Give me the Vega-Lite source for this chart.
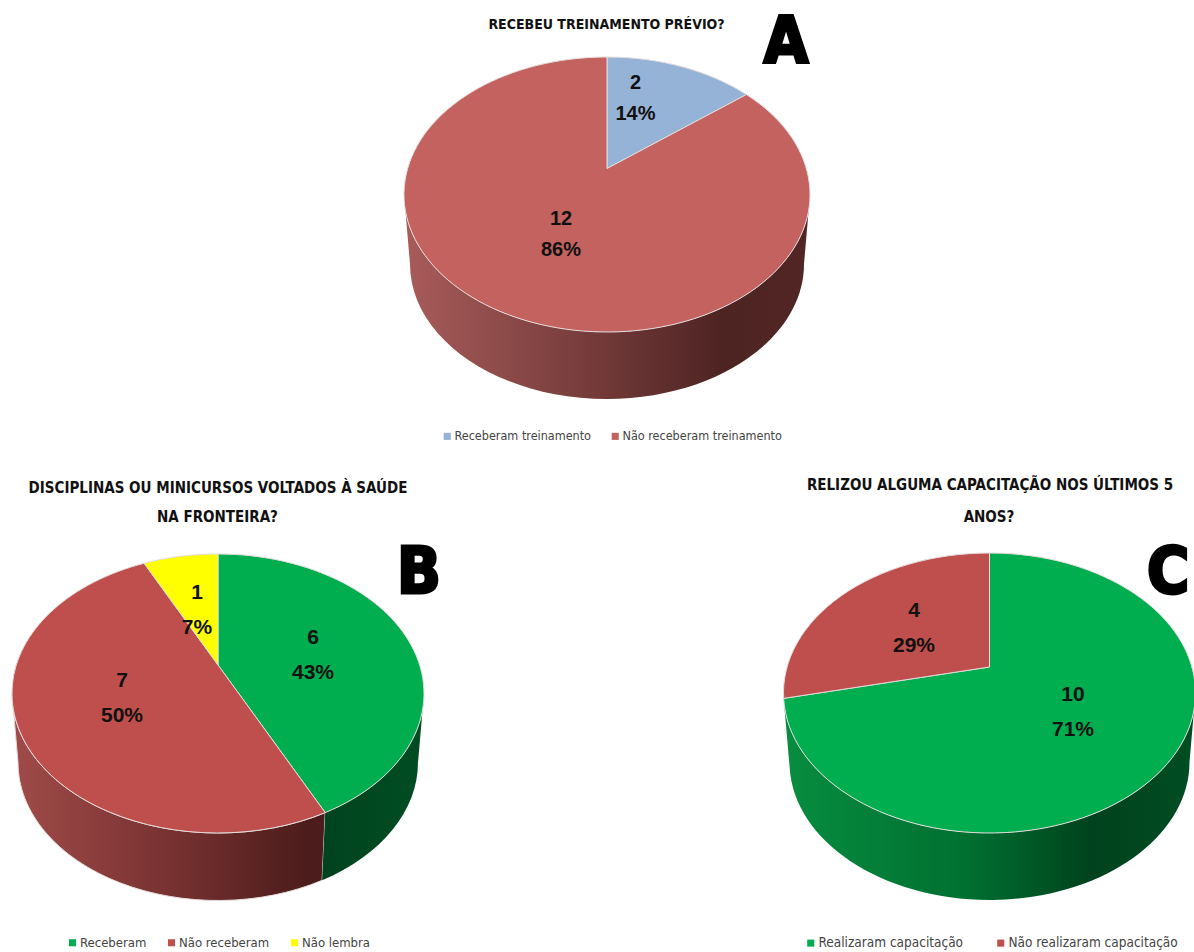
{
  "$schema": "https://vega.github.io/schema/vega-lite/v6.json",
  "width": 1194,
  "height": 952,
  "padding": 0,
  "autosize": {"type": "none"},
  "background": "white",
  "view": {"stroke": null},
  "params": [
    {"name": "pie", "value": {
      "A": {"cx": 607, "cy": 194.5, "rx": 203, "ry": 137.5, "ay": 168.5, "depth": 69.5, "bx": 197, "by": 135},
      "B": {"cx": 218, "cy": 693.5, "rx": 206, "ry": 139.5, "ay": 665, "depth": 69, "bx": 200, "by": 138},
      "C": {"cx": 989.5, "cy": 693, "rx": 206, "ry": 140, "ay": 667, "depth": 69, "bx": 200, "by": 138}
    }},
    {"name": "labelAt", "value": {
      "Receberam treinamento": [635.5, 83],
      "Não receberam treinamento": [561, 219],
      "Receberam": [313, 638],
      "Não receberam": [122, 681],
      "Não lembra": [197, 593],
      "Realizaram capacitação": [1073, 695],
      "Não realizaram capacitação": [914, 611]
    }},
    {"name": "noteAt", "value": {
      "RECEBEU TREINAMENTO PRÉVIO?": [606.5, 25],
      "DISCIPLINAS OU MINICURSOS VOLTADOS À SAÚDE": [218, 488],
      "NA FRONTEIRA?": [217.5, 517],
      "RELIZOU ALGUMA CAPACITAÇÃO NOS ÚLTIMOS 5": [990, 485],
      "ANOS?": [989, 517],
      "A": [786, 44],
      "B": [419, 574],
      "C": [1168, 574]
    }}
  ],
  "datasets": {
    "slices": [
      {"panel": "A", "category": "Receberam treinamento", "n": 2, "ord": 1},
      {"panel": "A", "category": "Não receberam treinamento", "n": 12, "ord": 2},
      {"panel": "B", "category": "Receberam", "n": 6, "ord": 1},
      {"panel": "B", "category": "Não receberam", "n": 7, "ord": 2},
      {"panel": "B", "category": "Não lembra", "n": 1, "ord": 3},
      {"panel": "C", "category": "Realizaram capacitação", "n": 10, "ord": 1},
      {"panel": "C", "category": "Não realizaram capacitação", "n": 4, "ord": 2}
    ],
    "notes": [
      {"kind": "title", "text": "RECEBEU TREINAMENTO PRÉVIO?"},
      {"kind": "title", "text": "DISCIPLINAS OU MINICURSOS VOLTADOS À SAÚDE"},
      {"kind": "title", "text": "NA FRONTEIRA?"},
      {"kind": "title", "text": "RELIZOU ALGUMA CAPACITAÇÃO NOS ÚLTIMOS 5"},
      {"kind": "title", "text": "ANOS?"},
      {"kind": "letter", "text": "A"},
      {"kind": "letter", "text": "B"},
      {"kind": "letter", "text": "C"}
    ]
  },
  "data": {"name": "slices"},
  "transform": [
    {"joinaggregate": [{"op": "sum", "field": "n", "as": "total"}], "groupby": ["panel"]},
    {"stack": "n", "groupby": ["panel"], "sort": [{"field": "ord", "order": "ascending"}], "as": ["s0", "s1"]},
    {"calculate": "pie[datum.panel]", "as": "g"},
    {"calculate": "datum.g.cx", "as": "px"},
    {"calculate": "datum.g.cy", "as": "py"},
    {"calculate": "(datum.g.cy - datum.g.ay) / datum.g.ry", "as": "k"},
    {"calculate": "2 * PI * datum.s0 / datum.total", "as": "t0"},
    {"calculate": "2 * PI * datum.s1 / datum.total", "as": "t1"},
    {"calculate": "sin(datum.t0) * sqrt(1 - datum.k * datum.k) / (1 + datum.k * cos(datum.t0))", "as": "x0"},
    {"calculate": "(cos(datum.t0) + datum.k) / (1 + datum.k * cos(datum.t0))", "as": "y0"},
    {"calculate": "sin(datum.t1) * sqrt(1 - datum.k * datum.k) / (1 + datum.k * cos(datum.t1))", "as": "x1"},
    {"calculate": "(cos(datum.t1) + datum.k) / (1 + datum.k * cos(datum.t1))", "as": "y1"},
    {"calculate": "datum.s0 <= 0 ? 0 : (atan2(datum.x0, datum.y0) + 2 * PI) % (2 * PI)", "as": "phi0"},
    {"calculate": "datum.s1 >= datum.total ? 2 * PI : (atan2(datum.x1, datum.y1) + 2 * PI) % (2 * PI)", "as": "phi1"},
    {"calculate": "'M0,' + round(-datum.k * datum.g.ry * 100) / 100 + 'L' + round(datum.g.rx * datum.x0 * 100) / 100 + ',' + round(-datum.g.ry * datum.y0 * 100) / 100 + 'A' + datum.g.rx + ',' + datum.g.ry + ' 0 ' + (datum.phi1 - datum.phi0 > PI ? 1 : 0) + ' 1 ' + round(datum.g.rx * datum.x1 * 100) / 100 + ',' + round(-datum.g.ry * datum.y1 * 100) / 100 + 'Z'", "as": "topPath"},
    {"calculate": "max(datum.phi0, PI / 2)", "as": "a0"},
    {"calculate": "min(datum.phi1, 3 * PI / 2)", "as": "a1"},
    {"calculate": "'M' + round(datum.g.rx * sin(datum.a0) * 100) / 100 + ',' + round(-datum.g.ry * cos(datum.a0) * 100) / 100 + 'A' + datum.g.rx + ',' + datum.g.ry + ' 0 0 1 ' + round(datum.g.rx * sin(datum.a1) * 100) / 100 + ',' + round(-datum.g.ry * cos(datum.a1) * 100) / 100 + 'L' + round(datum.g.bx * sin(datum.a1) * 100) / 100 + ',' + round((datum.g.depth - datum.g.by * cos(datum.a1)) * 100) / 100 + 'A' + datum.g.bx + ',' + datum.g.by + ' 0 0 0 ' + round(datum.g.bx * sin(datum.a0) * 100) / 100 + ',' + round((datum.g.depth - datum.g.by * cos(datum.a0)) * 100) / 100 + 'Z'", "as": "wallPath"},
    {"calculate": "datum.n + '\\n' + round(100 * datum.n / datum.total) + '%'", "as": "label"},
    {"calculate": "labelAt[datum.category][0]", "as": "lx"},
    {"calculate": "labelAt[datum.category][1]", "as": "ly"}
  ],
  "layer": [
    {
      "transform": [{"filter": "datum.panel == 'A' && datum.a1 > datum.a0"}],
      "mark": {"type": "point", "filled": true, "opacity": 1, "strokeWidth": 0,
        "fill": {"gradient": "linear", "x1": 0, "y1": 0, "x2": 1, "y2": 0, "stops": [
          {"offset": 0, "color": "#a85c5a"}, {"offset": 0.45, "color": "#763c3b"}, {"offset": 0.78, "color": "#4e2423"}, {"offset": 1, "color": "#512625"}]}},
      "encoding": {
        "x": {"field": "px", "type": "quantitative", "scale": {"domain": [0, 1194], "nice": false, "zero": false}, "axis": null},
        "y": {"field": "py", "type": "quantitative", "scale": {"domain": [0, 952], "reverse": true, "nice": false, "zero": false}, "axis": null},
        "size": {"value": 4},
        "shape": {"field": "wallPath", "type": "nominal", "scale": null}
      }
    },
    {
      "transform": [{"filter": "datum.panel == 'B' && datum.category == 'Não receberam'"}],
      "mark": {"type": "point", "filled": true, "opacity": 1, "stroke": "#e4dcdc", "strokeWidth": 1,
        "fill": {"gradient": "linear", "x1": 0, "y1": 0, "x2": 1, "y2": 0, "stops": [
          {"offset": 0, "color": "#a04b49"}, {"offset": 0.5, "color": "#783231"}, {"offset": 0.95, "color": "#4b1c1b"}, {"offset": 1, "color": "#4b1c1b"}]}},
      "encoding": {
        "x": {"field": "px", "type": "quantitative", "scale": {"domain": [0, 1194], "nice": false, "zero": false}, "axis": null},
        "y": {"field": "py", "type": "quantitative", "scale": {"domain": [0, 952], "reverse": true, "nice": false, "zero": false}, "axis": null},
        "size": {"value": 4},
        "shape": {"field": "wallPath", "type": "nominal", "scale": null}
      }
    },
    {
      "transform": [{"filter": "datum.panel == 'B' && datum.category == 'Receberam'"}],
      "mark": {"type": "point", "filled": true, "opacity": 1, "strokeWidth": 0,
        "fill": {"gradient": "linear", "x1": 0, "y1": 0, "x2": 1, "y2": 0, "stops": [
          {"offset": 0, "color": "#00431e"}, {"offset": 1, "color": "#004d22"}]}},
      "encoding": {
        "x": {"field": "px", "type": "quantitative", "scale": {"domain": [0, 1194], "nice": false, "zero": false}, "axis": null},
        "y": {"field": "py", "type": "quantitative", "scale": {"domain": [0, 952], "reverse": true, "nice": false, "zero": false}, "axis": null},
        "size": {"value": 4},
        "shape": {"field": "wallPath", "type": "nominal", "scale": null}
      }
    },
    {
      "transform": [{"filter": "datum.category == 'Realizaram capacitação'"}],
      "mark": {"type": "point", "filled": true, "opacity": 1, "strokeWidth": 0,
        "fill": {"gradient": "linear", "x1": 0, "y1": 0, "x2": 1, "y2": 0, "stops": [
          {"offset": 0, "color": "#078d40"}, {"offset": 0.45, "color": "#006f30"}, {"offset": 0.75, "color": "#00421d"}, {"offset": 1, "color": "#004d22"}]}},
      "encoding": {
        "x": {"field": "px", "type": "quantitative", "scale": {"domain": [0, 1194], "nice": false, "zero": false}, "axis": null},
        "y": {"field": "py", "type": "quantitative", "scale": {"domain": [0, 952], "reverse": true, "nice": false, "zero": false}, "axis": null},
        "size": {"value": 4},
        "shape": {"field": "wallPath", "type": "nominal", "scale": null}
      }
    },
    {
      "transform": [{"filter": "datum.panel == 'A'"}],
      "mark": {"type": "point", "filled": true, "opacity": 1, "stroke": "#e4dcdc", "strokeWidth": 1},
      "encoding": {
        "x": {"field": "px", "type": "quantitative", "scale": {"domain": [0, 1194], "nice": false, "zero": false}, "axis": null},
        "y": {"field": "py", "type": "quantitative", "scale": {"domain": [0, 952], "reverse": true, "nice": false, "zero": false}, "axis": null},
        "size": {"value": 4},
        "shape": {"field": "topPath", "type": "nominal", "scale": null},
        "color": {"field": "category", "type": "nominal",
          "scale": {"domain": ["Receberam treinamento", "Não receberam treinamento"], "range": ["#95b3d7", "#c3625f"]},
          "legend": {"orient": "none", "legendX": 441, "legendY": 430, "direction": "horizontal", "columns": 2, "title": null, "symbolType": "square", "symbolSize": 50, "symbolStrokeWidth": 0, "symbolOpacity": 1, "labelFont": "DejaVu Sans Condensed", "labelFontSize": 12.5, "labelColor": "#444444", "labelLimit": 300, "labelOffset": 1, "columnPadding": 18}}
      }
    },
    {
      "transform": [{"filter": "datum.panel == 'B'"}],
      "mark": {"type": "point", "filled": true, "opacity": 1, "stroke": "#e4dcdc", "strokeWidth": 1},
      "encoding": {
        "x": {"field": "px", "type": "quantitative", "scale": {"domain": [0, 1194], "nice": false, "zero": false}, "axis": null},
        "y": {"field": "py", "type": "quantitative", "scale": {"domain": [0, 952], "reverse": true, "nice": false, "zero": false}, "axis": null},
        "size": {"value": 4},
        "shape": {"field": "topPath", "type": "nominal", "scale": null},
        "color": {"field": "category", "type": "nominal",
          "scale": {"domain": ["Receberam", "Não receberam", "Não lembra"], "range": ["#00ae4f", "#be4f4c", "#ffff00"]},
          "legend": {"orient": "none", "legendX": 66, "legendY": 936, "direction": "horizontal", "columns": 3, "title": null, "symbolType": "square", "symbolSize": 50, "symbolStrokeWidth": 0, "symbolOpacity": 1, "labelFont": "DejaVu Sans Condensed", "labelFontSize": 13, "labelColor": "#444444", "labelLimit": 300, "labelOffset": 1, "columnPadding": 18}}
      }
    },
    {
      "transform": [{"filter": "datum.panel == 'C'"}],
      "mark": {"type": "point", "filled": true, "opacity": 1, "stroke": "#e4dcdc", "strokeWidth": 1},
      "encoding": {
        "x": {"field": "px", "type": "quantitative", "scale": {"domain": [0, 1194], "nice": false, "zero": false}, "axis": null},
        "y": {"field": "py", "type": "quantitative", "scale": {"domain": [0, 952], "reverse": true, "nice": false, "zero": false}, "axis": null},
        "size": {"value": 4},
        "shape": {"field": "topPath", "type": "nominal", "scale": null},
        "color": {"field": "category", "type": "nominal",
          "scale": {"domain": ["Realizaram capacitação", "Não realizaram capacitação"], "range": ["#00ae4f", "#be4f4c"]},
          "legend": {"orient": "none", "legendX": 804, "legendY": 936, "direction": "horizontal", "columns": 2, "title": null, "symbolType": "square", "symbolSize": 50, "symbolStrokeWidth": 0, "symbolOpacity": 1, "labelFont": "DejaVu Sans Condensed", "labelFontSize": 13.5, "labelColor": "#444444", "labelLimit": 300, "labelOffset": 1, "columnPadding": 30}}
      }
    },
    {
      "transform": [{"filter": "datum.panel == 'A'"}],
      "mark": {"type": "text", "font": "Liberation Sans", "fontWeight": "bold", "fontSize": 20, "lineBreak": "\n", "lineHeight": 31, "align": "center", "baseline": "middle", "color": "#111111"},
      "encoding": {
        "x": {"field": "lx", "type": "quantitative", "scale": {"domain": [0, 1194], "nice": false, "zero": false}, "axis": null},
        "y": {"field": "ly", "type": "quantitative", "scale": {"domain": [0, 952], "reverse": true, "nice": false, "zero": false}, "axis": null},
        "text": {"field": "label", "type": "nominal"}
      }
    },
    {
      "transform": [{"filter": "datum.panel != 'A'"}],
      "mark": {"type": "text", "font": "Liberation Sans", "fontWeight": "bold", "fontSize": 21, "lineBreak": "\n", "lineHeight": 35, "align": "center", "baseline": "middle", "color": "#111111"},
      "encoding": {
        "x": {"field": "lx", "type": "quantitative", "scale": {"domain": [0, 1194], "nice": false, "zero": false}, "axis": null},
        "y": {"field": "ly", "type": "quantitative", "scale": {"domain": [0, 952], "reverse": true, "nice": false, "zero": false}, "axis": null},
        "text": {"field": "label", "type": "nominal"}
      }
    },
    {
      "data": {"name": "notes"},
      "transform": [
        {"filter": "datum.kind == 'title'"},
        {"calculate": "noteAt[datum.text][0]", "as": "nx"},
        {"calculate": "noteAt[datum.text][1]", "as": "ny"}
      ],
      "mark": {"type": "text", "font": "DejaVu Sans Condensed", "fontWeight": "bold", "align": "center", "baseline": "middle", "color": "#111111"},
      "encoding": {
        "x": {"field": "nx", "type": "quantitative", "scale": {"domain": [0, 1194], "nice": false, "zero": false}, "axis": null},
        "y": {"field": "ny", "type": "quantitative", "scale": {"domain": [0, 952], "reverse": true, "nice": false, "zero": false}, "axis": null},
        "size": {"condition": {"test": "datum.text == 'RECEBEU TREINAMENTO PRÉVIO?'", "value": 14}, "value": 15},
        "text": {"field": "text", "type": "nominal"}
      }
    },
    {
      "data": {"name": "notes"},
      "transform": [
        {"filter": "datum.kind == 'letter'"},
        {"calculate": "noteAt[datum.text][0]", "as": "nx"},
        {"calculate": "noteAt[datum.text][1]", "as": "ny"}
      ],
      "mark": {"type": "text", "font": "DejaVu Sans Condensed", "fontWeight": "bold", "fontSize": 64, "align": "center", "baseline": "middle", "color": "#000000", "stroke": "#000000", "strokeWidth": 3},
      "encoding": {
        "x": {"field": "nx", "type": "quantitative", "scale": {"domain": [0, 1194], "nice": false, "zero": false}, "axis": null},
        "y": {"field": "ny", "type": "quantitative", "scale": {"domain": [0, 952], "reverse": true, "nice": false, "zero": false}, "axis": null},
        "text": {"field": "text", "type": "nominal"}
      }
    }
  ],
  "resolve": {"scale": {"color": "independent"}, "legend": {"color": "independent"}}
}
